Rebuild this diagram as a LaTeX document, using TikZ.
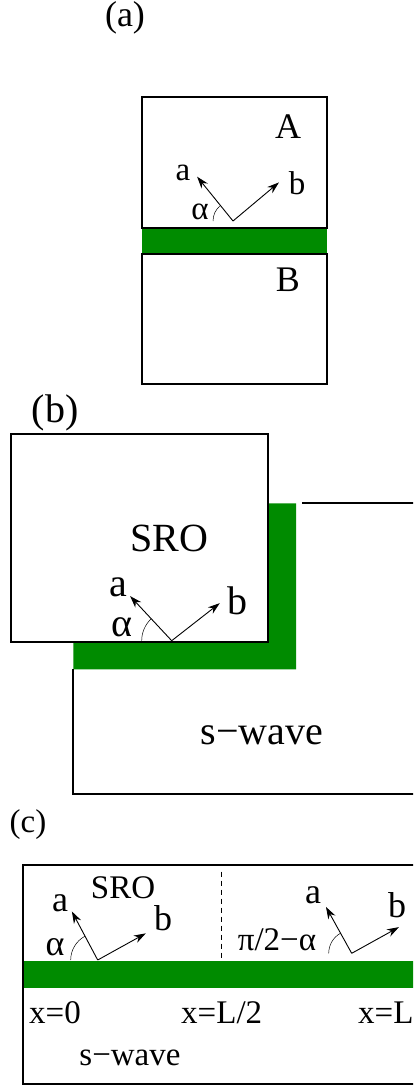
\documentclass[tikz,border=0pt]{standalone}
\usepackage{fontspec}
\setmainfont{Liberation Serif}
\usepackage{tikz}
\usepackage{xcolor}
\usetikzlibrary{arrows.meta}
\definecolor{layergreen}{RGB}{0,139,0}

\begin{document}
\begin{tikzpicture}[x=1pt, y=1pt,
        box/.style={draw=black, line width=1.7pt},
        layer/.style={fill=layergreen, draw=none},
        vec/.style={line width=0.9pt, -{Stealth[length=12pt, width=8pt]}},
        angarc/.style={line width=0.5pt},
        txtbig/.style={inner sep=0pt, font=\fontsize{40}{40}\selectfont},
        txtmid/.style={inner sep=0pt, font=\fontsize{36}{36}\selectfont},
        txtsmall/.style={inner sep=0pt, font=\fontsize{33}{33}\selectfont}
    ]
        \clip (0,0) rectangle (413,-1087);

        % Panel (a)
        \node[txtmid] (labA) at (125,-18) {(a)};
        \fill[layer] (141.7,-227.7) rectangle (326.7,-254);
        \draw[box] (141.7,-96.7) rectangle (326.7,-227.7);
        \draw[box] (141.7,-254) rectangle (326.7,-384);
        \node[txtmid] (sideA) at (288,-127) {A};
        \node[txtmid] (sideB) at (288,-280) {B};
        \coordinate (oA) at (233,-221);
        \draw[vec] (oA) -- ++(129:57) coordinate (aA);
        \draw[vec] (oA) -- ++(40:60) coordinate (bA);
        \draw[angarc] (oA) ++(180:20) arc[start angle=180, end angle=129, radius=20];
        \node[txtsmall] (axA) at (183,-173) {a};
        \node[txtsmall] (bxA) at (297,-183) {b};
        \node[txtsmall] (alA) at (200,-212) {α};

        % Panel (b)
        \node[txtbig] (labB) at (55,-413) {(b)};
        \fill[layer] (73.3,-641.7) -- (268.3,-641.7) -- (268.3,-503.3) -- (296,-503.3)
            -- (296,-669.3) -- (73.3,-669.3) -- cycle;
        \draw[box] (11,-434.3) rectangle (268.3,-641.7);
        \draw[box] (302.3,-503.3) -- (420,-503.3);
        \draw[box] (73.3,-669.3) -- (73.3,-794) -- (420,-794);
        \node[txtbig] (sroB) at (169,-538) {SRO};
        \node[txtbig] (swB) at (262,-735) {s−wave};
        \coordinate (oB) at (171.7,-640.7);
        \draw[vec] (oB) -- ++(133:61) coordinate (aB);
        \draw[vec] (oB) -- ++(38:61) coordinate (bB);
        \draw[angarc] (oB) ++(180:30) arc[start angle=180, end angle=133, radius=30];
        \node[txtbig] (axB) at (118,-587) {a};
        \node[txtbig] (bxB) at (237,-601) {b};
        \node[txtbig] (alB) at (122,-627) {α};

        % Panel (c)
        \node[txtsmall] (labC) at (28,-825) {(c)};
        \fill[layer] (22.7,-960.7) rectangle (420,-988.3);
        \draw[box] (420,-865) -- (22.7,-865) -- (22.7,-1084) -- (420,-1084);
        \draw[line width=0.8pt, dash pattern=on 5pt off 4pt] (221.7,-871.7) -- (221.7,-960.7);
        \node[txtsmall] (sroC) at (123,-888) {SRO};
        \coordinate (oC) at (97.7,-960);
        \draw[vec] (oC) -- ++(118:55) coordinate (aC);
        \draw[vec] (oC) -- ++(29:55) coordinate (bC);
        \draw[angarc] (oC) ++(180:27) arc[start angle=180, end angle=118, radius=27];
        \node[txtmid] (axC) at (60,-903) {a};
        \node[txtmid] (bxC) at (163,-918) {b};
        \node[txtmid] (alC) at (55,-947) {α};
        \coordinate (oD) at (351.7,-953.3);
        \draw[vec] (oD) -- ++(119:53) coordinate (aD);
        \draw[vec] (oD) -- ++(29:54) coordinate (bD);
        \draw[angarc] (oD) ++(180:23) arc[start angle=180, end angle=119, radius=23];
        \node[txtmid] (axD) at (313,-895) {a};
        \node[txtmid] (bxD) at (397,-905) {b};
        \node[txtsmall] (alD) at (277,-940) {π/2−α};
        \node[txtsmall] (x0) at (55,-1013) {x=0};
        \node[txtsmall] (xhalf) at (221.7,-1013) {x=L/2};
        \node[txtsmall, anchor=west] (xL) at (358,-1013) {x=L};
        \node[txtsmall] (swC) at (130,-1058) {s−wave};
    \end{tikzpicture}
\end{document}
